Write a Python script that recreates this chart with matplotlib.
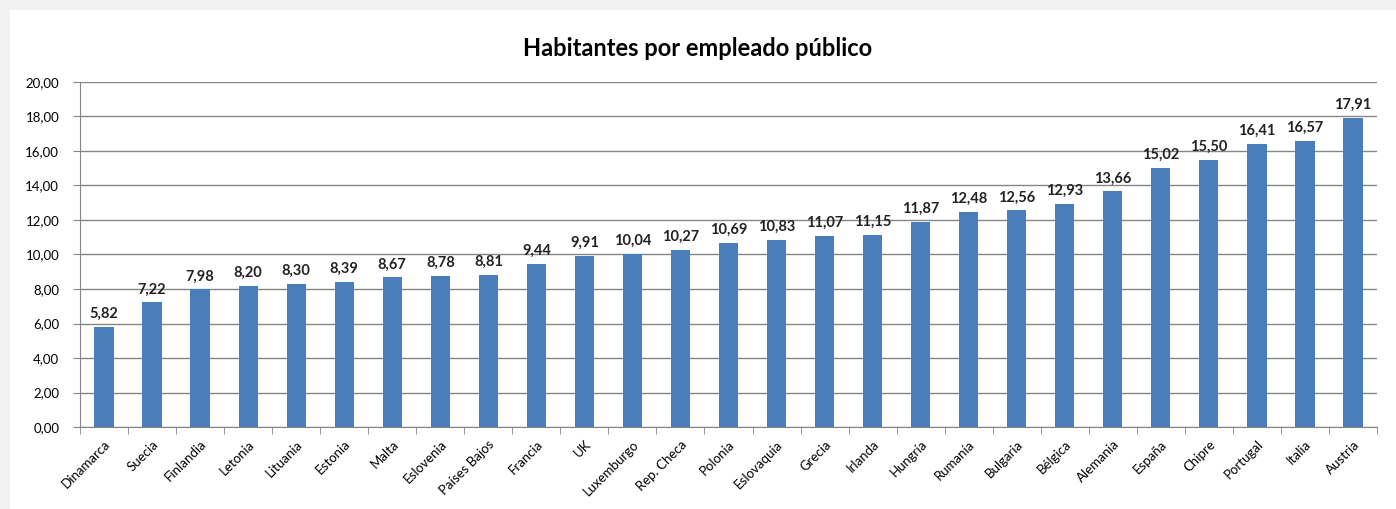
import numpy as np
import matplotlib
matplotlib.use("Agg")
import matplotlib.pyplot as plt
from matplotlib.patches import Rectangle

plt.rcParams["font.family"] = ["Lato", "DejaVu Sans"]

# Data
countries = [
    "Dinamarca", "Suecia", "Finlandia", "Letonia", "Lituania", "Estonia",
    "Malta", "Eslovenia", "Países Bajos", "Francia", "UK", "Luxemburgo",
    "Rep. Checa", "Polonia", "Eslovaquia", "Grecia", "Irlanda", "Hungría",
    "Rumanía", "Bulgaria", "Bélgica", "Alemania", "España", "Chipre",
    "Portugal", "Italia", "Austria",
]
values = [
    5.82, 7.22, 7.98, 8.20, 8.30, 8.39, 8.67, 8.78, 8.81, 9.44, 9.91, 10.04,
    10.27, 10.69, 10.83, 11.07, 11.15, 11.87, 12.48, 12.56, 12.93, 13.66,
    15.02, 15.50, 16.41, 16.57, 17.91,
]
yticks = [0, 2, 4, 6, 8, 10, 12, 14, 16, 18, 20]

grey = "#868686"
bar_color = "#4A7EBB"

fig = plt.figure(figsize=(13.96, 5.09), dpi=100)
fig.patch.set_facecolor("#f2f2f2")
fig.patches.append(Rectangle((10 / 1396, 0), 1, 1 - 10 / 509,
                             transform=fig.transFigure, facecolor="white",
                             edgecolor="none", zorder=-5))

ax = fig.add_axes([80 / 1396, 1 - 427 / 509, (1377 - 80) / 1396, (427 - 82) / 509])
ax.set_zorder(2)
ax.set_facecolor("white")

x = np.arange(len(countries))
ax.bar(x, values, width=0.4, color=bar_color, zorder=3)

for xi, v in zip(x, values):
    ax.text(xi, v + 0.35, f"{v:.2f}".replace(".", ","), ha="center", va="bottom",
            fontsize=10.5, fontweight="bold", color="#222222")

ax.set_xlim(-0.5, len(countries) - 0.5)
ax.set_ylim(0, 20)
ax.set_yticks(yticks)
ax.set_yticklabels([f"{t:.2f}".replace(".", ",") for t in yticks], fontsize=9.5)
ax.yaxis.grid(True, color=grey, linewidth=1, zorder=0)
ax.set_axisbelow(True)

ax.set_xticks(x)
ax.set_xticklabels(countries, rotation=45, ha="right", rotation_mode="anchor",
                   fontsize=9.5)
ax.set_xticks(np.arange(-0.5, len(countries), 1), minor=True)
ax.tick_params(axis="x", which="major", length=0, pad=8)
ax.tick_params(axis="x", which="minor", length=5, color=grey, direction="out")
ax.tick_params(axis="y", length=5, color=grey, direction="out", pad=10)

for s in ["top", "right"]:
    ax.spines[s].set_visible(False)
ax.spines["left"].set_color(grey)
ax.spines["bottom"].set_color(grey)

fig.text(0.5, 1 - 48 / 509, "Habitantes por empleado público", ha="center",
         va="center", fontsize=17, fontweight="bold", zorder=3)

fig.savefig("out.png", dpi=100, facecolor=fig.get_facecolor())
